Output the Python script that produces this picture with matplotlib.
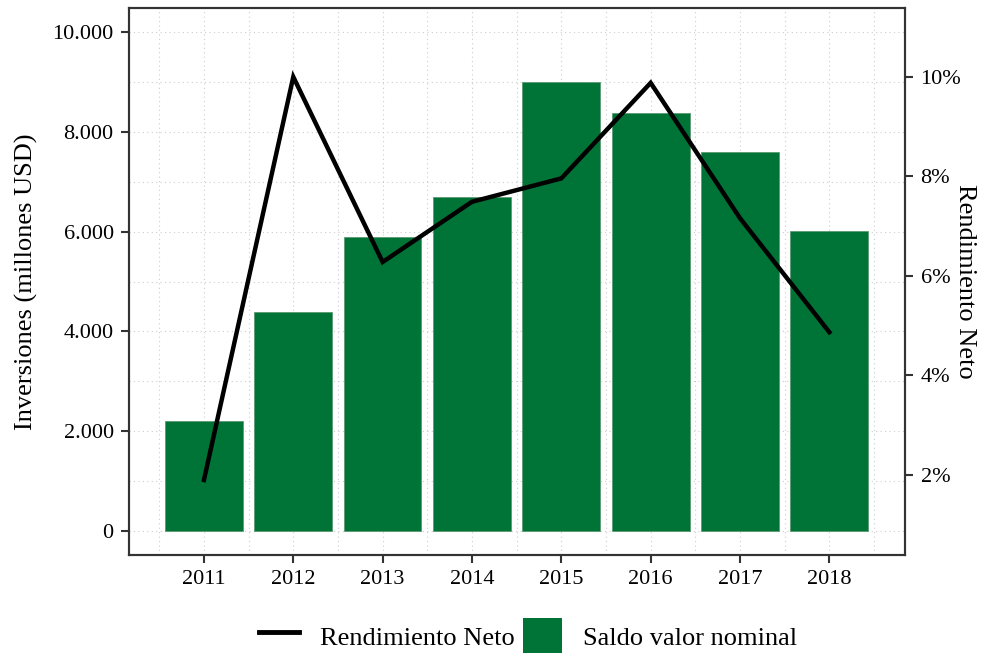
import matplotlib.pyplot as plt
import matplotlib.ticker as mticker
from matplotlib.lines import Line2D
from matplotlib.patches import Patch

anios = [2011, 2012, 2013, 2014, 2015, 2016, 2017, 2018]
saldo = [2200, 4400, 5900, 6700, 9000, 8380, 7600, 6020]  # millones USD
rendimiento = [1.9, 10.0, 6.28, 7.49, 7.96, 9.88, 7.16, 4.87]  # %

verde = '#007336'
gris = '#333333'

plt.rcParams['font.family'] = ['Liberation Serif', 'DejaVu Serif']

fig = plt.figure(figsize=(9.84, 6.53), dpi=100)
ax = fig.add_axes([0.131, 0.150, 0.789, 0.838])

ax.bar(anios, saldo, width=0.87, color=verde, edgecolor='#5a9a72', linewidth=0.6, zorder=2)
ax.set_xlim(2010.16, 2018.85)
ax.set_ylim(-481, 10487)
ax.set_xticks(anios)
ax.set_yticks(range(0, 10001, 2000))
ax.yaxis.set_major_formatter(mticker.FuncFormatter(lambda v, p: f"{int(v):,}".replace(',', '.')))
ax.xaxis.set_minor_locator(mticker.MultipleLocator(0.5))
ax.yaxis.set_minor_locator(mticker.MultipleLocator(1000))
ax.grid(True, which='both', linestyle=(0, (1, 3)), color='#cccccc', linewidth=0.8, zorder=0)
ax.set_axisbelow(True)
ax.tick_params(which='minor', length=0)
ax.tick_params(which='major', direction='out', length=6, width=1.5, color=gris, labelsize=16, pad=5)
ax.set_ylabel('Inversiones (millones USD)', fontsize=19, labelpad=10)

ax2 = ax.twinx()
ax2.plot(anios, rendimiento, color='black', linewidth=3.2, solid_joinstyle='miter', zorder=3)
ax2.set_ylim(0.392, 11.387)
ax2.set_yticks([2, 4, 6, 8, 10])
ax2.yaxis.set_major_formatter(mticker.FuncFormatter(lambda v, p: f"{int(v)}%"))
ax2.tick_params(direction='out', length=6, width=1.5, color=gris, labelsize=16, pad=5)
fig.text(965 / 984, 1 - 281 / 653, 'Rendimiento Neto', fontsize=19, rotation=270,
         ha='center', va='center')

for a in (ax, ax2):
    for s in a.spines.values():
        s.set_color(gris)
        s.set_linewidth(1.5)

handles = [Line2D([0], [0], color='black', linewidth=3.5),
           Patch(facecolor=verde, edgecolor='none')]
fig.legend(handles, ['Rendimiento Neto', 'Saldo valor nominal'], loc='center',
           bbox_to_anchor=(0.537, 0.025), ncol=2, frameon=False, fontsize=19,
           handlelength=1.5, handleheight=1.8, columnspacing=0.3, handletextpad=0.8)

fig.savefig('out.png', dpi=100)
